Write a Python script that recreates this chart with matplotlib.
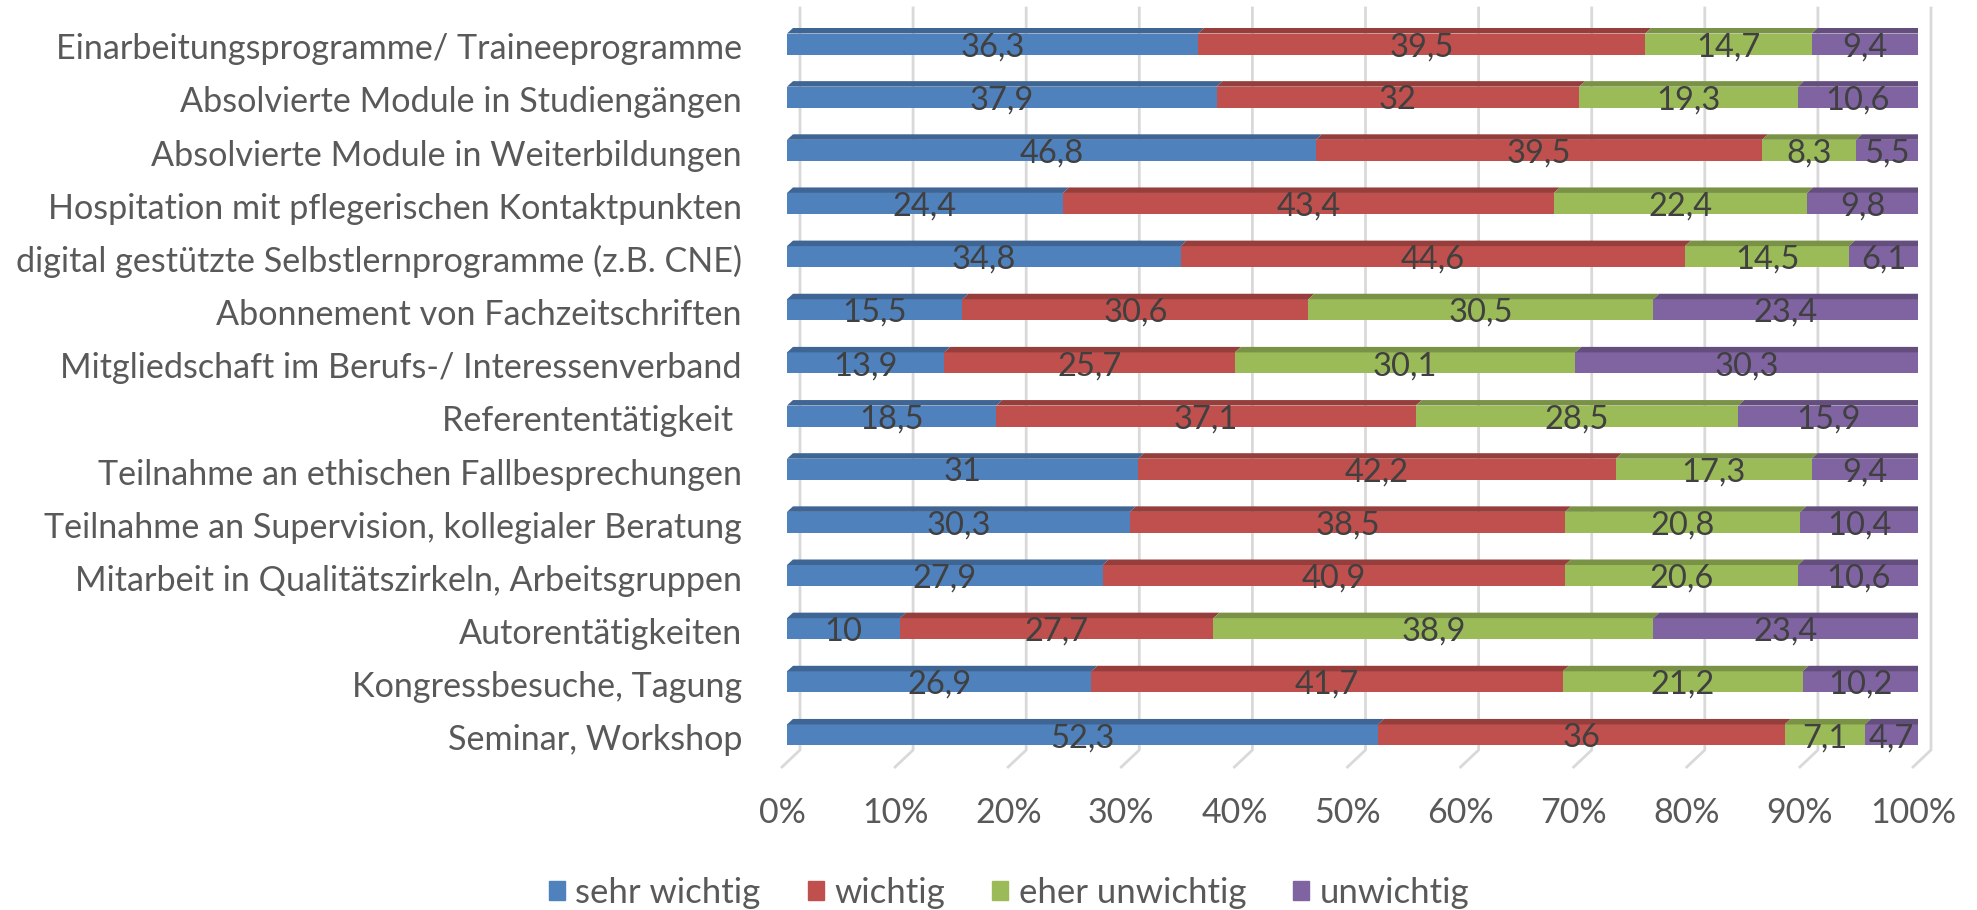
import matplotlib.pyplot as plt
from matplotlib.patches import Polygon, Patch
import numpy as np

plt.rcParams['font.family'] = ['Lato', 'DejaVu Sans']

categories = [
    'Einarbeitungsprogramme/ Traineeprogramme',
    'Absolvierte Module in Studiengängen',
    'Absolvierte Module in Weiterbildungen',
    'Hospitation mit pflegerischen Kontaktpunkten',
    'digital gestützte Selbstlernprogramme (z.B. CNE)',
    'Abonnement von Fachzeitschriften',
    'Mitgliedschaft im Berufs-/ Interessenverband',
    'Referententätigkeit ',
    'Teilnahme an ethischen Fallbesprechungen',
    'Teilnahme an Supervision, kollegialer Beratung',
    'Mitarbeit in Qualitätszirkeln, Arbeitsgruppen',
    'Autorentätigkeiten',
    'Kongressbesuche, Tagung',
    'Seminar, Workshop',
]
sehr_wichtig = [36.3, 37.9, 46.8, 24.4, 34.8, 15.5, 13.9, 18.5, 31, 30.3, 27.9, 10, 26.9, 52.3]
wichtig = [39.5, 32, 39.5, 43.4, 44.6, 30.6, 25.7, 37.1, 42.2, 38.5, 40.9, 27.7, 41.7, 36]
eher_unwichtig = [14.7, 19.3, 8.3, 22.4, 14.5, 30.5, 30.1, 28.5, 17.3, 20.8, 20.6, 38.9, 21.2, 7.1]
unwichtig = [9.4, 10.6, 5.5, 9.8, 6.1, 23.4, 30.3, 15.9, 9.4, 10.4, 10.6, 23.4, 10.2, 4.7]
series_names = ['sehr wichtig', 'wichtig', 'eher unwichtig', 'unwichtig']
colors = ['#4F81BD', '#C0504D', '#9BBB59', '#8064A2']

def darker(c, f):
    r, g, b = [int(c[i:i + 2], 16) / 255 for i in (1, 3, 5)]
    return (r * f, g * f, b * f)

series = np.array([sehr_wichtig, wichtig, eher_unwichtig, unwichtig])
totals = series.sum(axis=0)
shares = series / totals * 100

fig = plt.figure(figsize=(19.77, 9.10), dpi=100)
W, H = 1977, 910
# front bar plane: 0% at 787px, 100% at 1918px; bar 0 centre at 44px, step 53.15px
x0, x1 = 787, 1918
px_x = (x1 - x0) / 100
px_y = 53.15
y_top, y_bot = (8 - 44) / px_y, (767 - 44) / px_y
ax = fig.add_axes([x0 / W, (H - 767) / H, (x1 - x0) / W, (767 - 8) / H])
ax.set_xlim(0, 100)
ax.set_ylim(y_bot, y_top)
ax.axis('off')

# depth offsets (data units)
back_dx = 13 / px_x
front_dx = -5 / px_x
floor_back = (750 - 44) / px_y
bar_h = 21 / px_y
bar_dx = 6 / px_x
bar_dy = 5.5 / px_y

grid_col = '#D9D9D9'
for v in range(0, 101, 10):
    ax.plot([v + back_dx, v + back_dx, v + front_dx], [y_top, floor_back, y_bot],
            color=grid_col, lw=2, clip_on=False, zorder=0)
    ax.text(v + front_dx, (813 - 44) / px_y, f'{v}%', ha='center', va='center',
            fontsize=24.5, color='#595959', clip_on=False)

y = np.arange(len(categories))
for i in range(len(categories)):
    top = y[i] - bar_h / 2
    # right side face
    ax.add_patch(Polygon([(100, top), (100 + bar_dx, top - bar_dy),
                          (100 + bar_dx, top + bar_h - bar_dy), (100, top + bar_h)],
                         closed=True, color=darker(colors[3], 0.7), zorder=2, lw=0))

left = np.zeros(len(categories))
for k in range(4):
    w = shares[k]
    ax.barh(y, w, left=left, height=bar_h, color=colors[k], zorder=3, lw=0)
    for i in range(len(categories)):
        top = y[i] - bar_h / 2
        ax.add_patch(Polygon([(left[i], top), (left[i] + w[i], top),
                              (left[i] + w[i] + bar_dx, top - bar_dy),
                              (left[i] + bar_dx, top - bar_dy)],
                             closed=True, color=darker(colors[k], 0.78), zorder=3, lw=0))
        lab = f'{series[k][i]:g}'.replace('.', ',')
        ax.text(left[i] + w[i] / 2, y[i] + 0.06, lab, ha='center', va='center',
                fontsize=23.5, color='#404040', zorder=5)
    left = left + w

for i, c in enumerate(categories):
    ax.text((742 - x0) / px_x, y[i] + 0.1, c, ha='right', va='center',
            fontsize=24.6, color='#595959', clip_on=False)

handles = [Patch(color=c) for c in colors]
fig.legend(handles, series_names, loc='center', bbox_to_anchor=(1009 / W, (H - 893) / H),
           ncol=4, frameon=False, fontsize=25, handlelength=0.47, handleheight=0.47,
           handletextpad=0.3, columnspacing=1.35, labelcolor='#595959')

fig.savefig('out.png', dpi=100)
